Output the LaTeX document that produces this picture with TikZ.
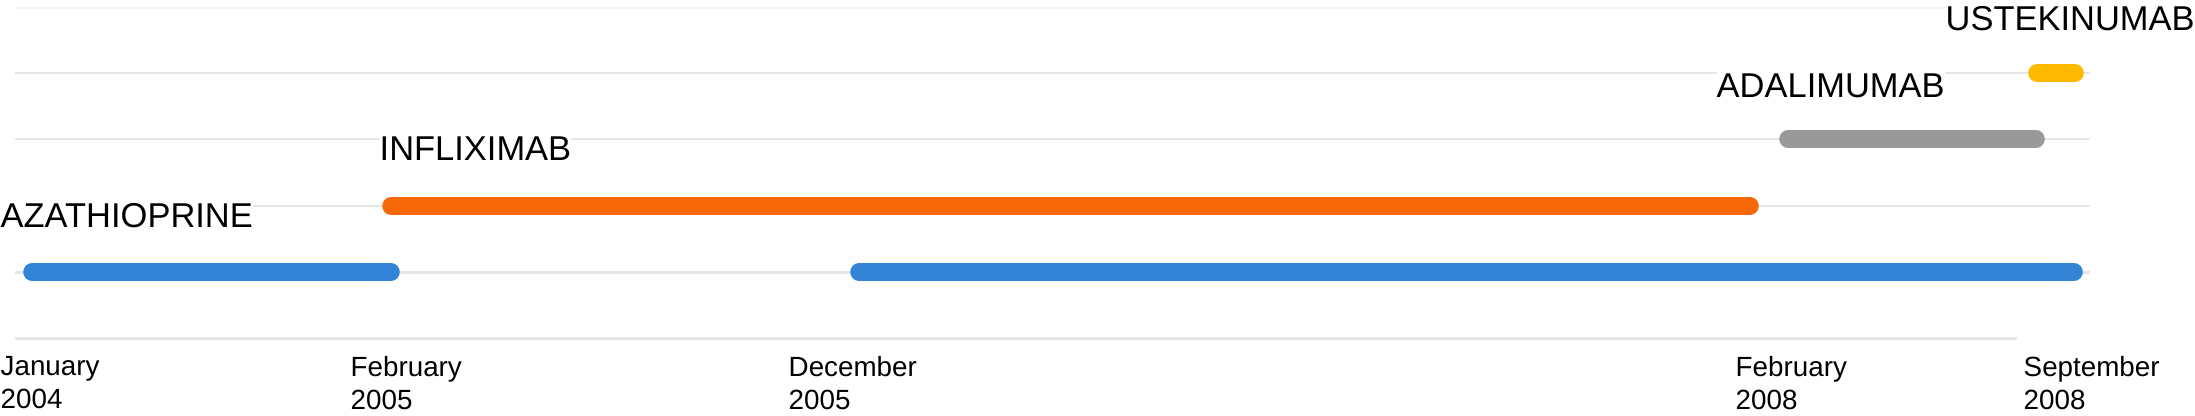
\documentclass[tikz,border=0pt]{standalone}
\usepackage{fontspec}
\setmainfont{Liberation Sans}
\usepackage{tikz}
\definecolor{azablue}{HTML}{3384D6}
\definecolor{infliorange}{HTML}{F76808}
\definecolor{adagray}{HTML}{999999}
\definecolor{usteyellow}{HTML}{FFBA00}
\definecolor{gridgray}{HTML}{E6E6E6}
\definecolor{toplinegray}{HTML}{F6F6F6}

\begin{document}
\begin{tikzpicture}[x=0.01cm, y=-0.01cm,
    gridline/.style={gridgray, line width=0.85pt},
    bar/.style={line width=5pt, line cap=round},
    drug/.style={anchor=base west, fill=white, inner xsep=0pt, inner ysep=1pt,
      font=\fontsize{9.8}{11}\selectfont},
    datelabel/.style={anchor=north west, inner sep=0pt, align=left,
      font=\fontsize{7.9}{9.4}\selectfont}]

  \useasboundingbox (0,0) rectangle (2195,415);

  % Grid lines
  \draw[gridline, toplinegray] (15,8) -- (2090,8);
  \foreach \y in {73,139,206,272} {
    \draw[gridline] (15,\y) -- (2090,\y);
  }
  \draw[gridline] (15,338) -- (2017,338);

  % Treatment periods
  \coordinate (aza1a) at (32,272);
  \coordinate (aza1b) at (391,272);
  \coordinate (aza2a) at (859,272);
  \coordinate (aza2b) at (2074,272);
  \coordinate (infa) at (391,206);
  \coordinate (infb) at (1750,206);
  \coordinate (adaa) at (1788,139);
  \coordinate (adab) at (2036,139);
  \coordinate (ustea) at (2037,73);
  \coordinate (usteb) at (2075,73);

  \draw[bar, azablue] (aza1a) -- (aza1b);
  \draw[bar, azablue] (aza2a) -- (aza2b);
  \draw[bar, infliorange] (infa) -- (infb);
  \draw[bar, adagray] (adaa) -- (adab);
  \draw[bar, usteyellow] (ustea) -- (usteb);

  % Drug names
  \node[drug] (azalabel) at (0,227) {AZATHIOPRINE};
  \node[drug] (inflabel) at (379,160) {INFLIXIMAB};
  \node[drug] (adalabel) at (1716,97) {ADALIMUMAB};
  \node[drug] (ustelabel) at (1945,30) {USTEKINUMAB};

  % Dates
  \foreach \x/\m/\yr/\name in {0/January/2004/d1, 350/February/2005/d2,
      788/December/2005/d3, 1735/February/2008/d4, 2023/September/2008/d5} {
    \node[datelabel] (\name) at (\x,356) {\m\\\yr};
  }

\end{tikzpicture}
\end{document}
